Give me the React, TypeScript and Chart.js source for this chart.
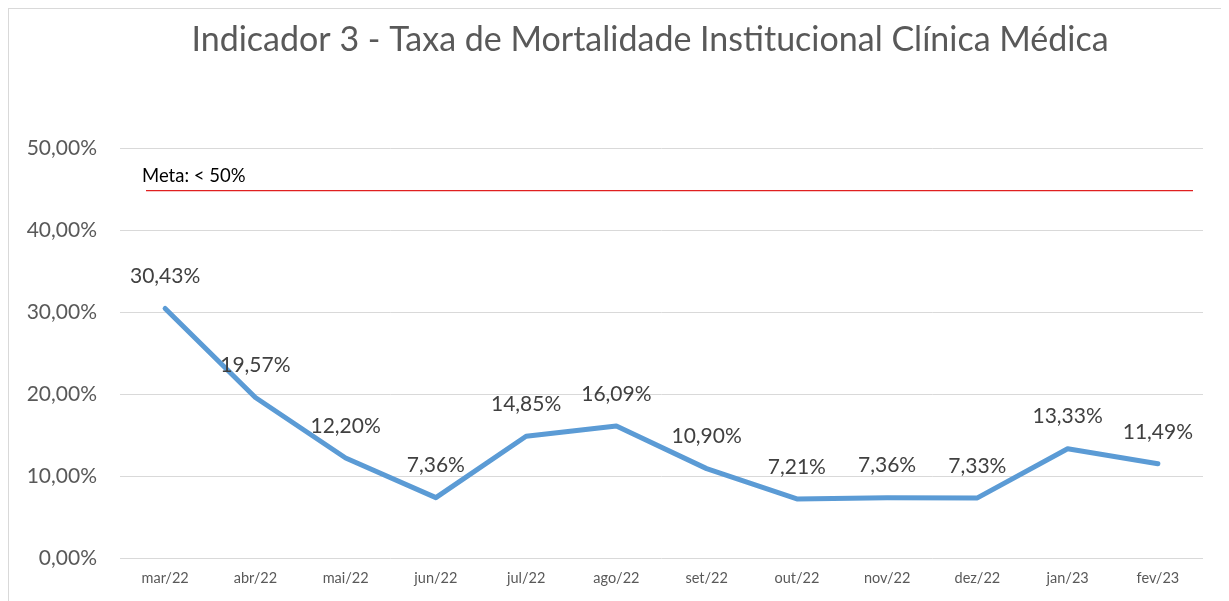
import React, { useEffect, useRef } from "react";
import { Chart, registerables } from "chart.js";

Chart.register(...registerables);

const TITLE = "Indicador 3 - Taxa de Mortalidade Institucional Clínica Médica";
const categories = ["mar/22", "abr/22", "mai/22", "jun/22", "jul/22", "ago/22", "set/22", "out/22", "nov/22", "dez/22", "jan/23", "fev/23"];
const taxa = [30.43, 19.57, 12.2, 7.36, 14.85, 16.09, 10.9, 7.21, 7.36, 7.33, 13.33, 11.49];
const metaValue = [44.8];
const metaLabel = ["Meta: < 50%"];
const yTicks = [0, 10, 20, 30, 40, 50];

const fmt = (v: number) => v.toFixed(2).replace(".", ",") + "%";

const FONT = "Lato, 'Open Sans', sans-serif";

const extrasPlugin = {
  id: "extras",
  beforeDraw(chart: any) {
    const ctx = chart.ctx;
    ctx.save();
    ctx.fillStyle = "#ffffff";
    ctx.fillRect(0, 0, chart.width, chart.height);
    ctx.strokeStyle = "#d9d9d9";
    ctx.lineWidth = 1;
    ctx.strokeRect(0.5, 0.5, chart.width + 10, chart.height + 10);
    ctx.fillStyle = "#595959";
    ctx.font = `34px ${FONT}`;
    ctx.textAlign = "center";
    ctx.textBaseline = "alphabetic";
    ctx.fillText(TITLE, 642, 43);
    ctx.restore();
  },
  afterDatasetsDraw(chart: any) {
    const ctx = chart.ctx;
    const { left, right } = chart.chartArea;
    const y = chart.scales.y.getPixelForValue(metaValue[0]);
    ctx.save();
    ctx.strokeStyle = "#e02020";
    ctx.lineWidth = 1.3;
    ctx.beginPath();
    ctx.moveTo(left + 26, y);
    ctx.lineTo(right - 10, y);
    ctx.stroke();
    ctx.fillStyle = "#000000";
    ctx.font = `18.5px ${FONT}`;
    ctx.textAlign = "left";
    ctx.textBaseline = "middle";
    ctx.fillText(metaLabel[0], left + 22, y - 15);

    const meta = chart.getDatasetMeta(0);
    ctx.fillStyle = "#404040";
    ctx.font = `21px ${FONT}`;
    ctx.textAlign = "center";
    meta.data.forEach((pt: any, i: number) => {
      ctx.fillText(fmt(taxa[i]), pt.x, pt.y - 32);
    });
    ctx.restore();
  },
};

export default function App() {
  const ref = useRef<HTMLCanvasElement>(null);
  useEffect(() => {
    if (!ref.current) return;
    const chart = new Chart(ref.current, {
      type: "line",
      data: {
        labels: categories,
        datasets: [
          {
            data: taxa,
            borderColor: "#5B9BD5",
            borderWidth: 5,
            pointRadius: 0,
            borderJoinStyle: "round",
            borderCapStyle: "round",
            tension: 0,
            fill: false,
          },
        ],
      },
      options: {
        animation: false,
        responsive: false,
        maintainAspectRatio: false,
        layout: { padding: { left: 0, right: 26, top: 140, bottom: 0 } },
        plugins: {
          legend: { display: false },
          tooltip: { enabled: false },
          title: { display: false },
        },
        scales: {
          x: {
            offset: true,
            grid: { display: false, drawTicks: false },
            border: { display: false },
            ticks: { color: "#595959", font: { family: FONT, size: 14.5 }, padding: 12, maxRotation: 0 },
            afterFit: (s: any) => { s.height = 43; },
          },
          y: {
            min: 0,
            max: 50,
            afterBuildTicks: (s: any) => { s.ticks = yTicks.map((v) => ({ value: v })); },
            grid: { color: "#d9d9d9", lineWidth: 1, drawTicks: false },
            border: { display: false },
            ticks: {
              color: "#595959",
              font: { family: FONT, size: 21 },
              padding: 23,
              callback: (v: any) => fmt(Number(v)),
            },
            afterFit: (s: any) => { s.width = 112; },
          },
        },
      },
      plugins: [extrasPlugin],
    });
    return () => chart.destroy();
  }, []);
  return (
    <div style={{ width: 1221, height: 593, overflow: "hidden" }}>
      <canvas ref={ref} width={1221} height={593} style={{ display: "block" }} />
    </div>
  );
}
